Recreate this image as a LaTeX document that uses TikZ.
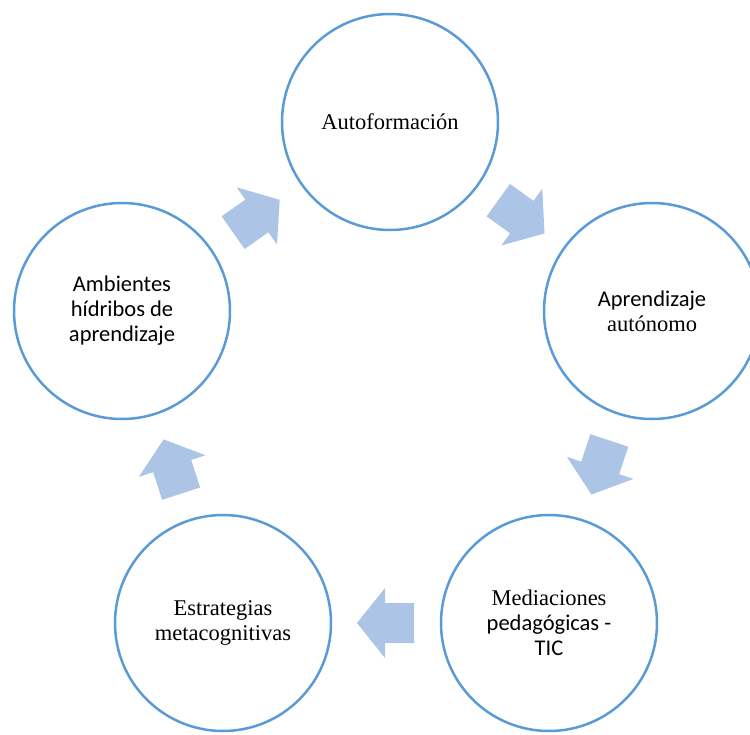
\documentclass[tikz,border=0pt]{standalone}
\usepackage{fontspec}
\setmainfont{Liberation Serif}
\newfontfamily\calibrifont{Carlito}
\definecolor{ringblue}{RGB}{91,155,213}
\definecolor{arrowblue}{RGB}{172,196,230}
\begin{document}
\begin{tikzpicture}[x=1pt,y=-1pt,
  stage/.style={circle,draw=ringblue,line width=2.5pt,minimum size=216pt,inner sep=0pt,align=center,font=\fontsize{22.5}{25}\selectfont},
  cyclearrow/.pic={\fill[arrowblue] (-28,-20) -- (1,-20) -- (1,-35) -- (29,0) -- (1,35) -- (1,20) -- (-28,20) -- cycle;}
]
\useasboundingbox (0,0) rectangle (750,734);
\clip (0,0) rectangle (750,734);
\node[stage] (top) at (390,122) {Autoformación};
\node[stage] (right) at (652,311) {{\calibrifont Aprendizaje}\\autónomo};
\node[stage] (br) at (549,623) {Mediaciones\\{\calibrifont pedagógicas -}\\{\calibrifont TIC}};
\node[stage] (bl) at (223,623) {Estrategias\\metacognitivas};
\node[stage] (left) at (122,311) {{\calibrifont Ambientes}\\{\calibrifont hídribos de}\\{\calibrifont aprendizaje}};
\path (top) -- (right) pic[midway,sloped,allow upside down] {cyclearrow};
\path (right) -- (br) pic[midway,sloped,allow upside down] {cyclearrow};
\path (br) -- (bl) pic[midway,sloped,allow upside down] {cyclearrow};
\path (bl) -- (left) pic[midway,sloped,allow upside down] {cyclearrow};
\path (left) -- (top) pic[midway,sloped,allow upside down] {cyclearrow};
\end{tikzpicture}
\end{document}
